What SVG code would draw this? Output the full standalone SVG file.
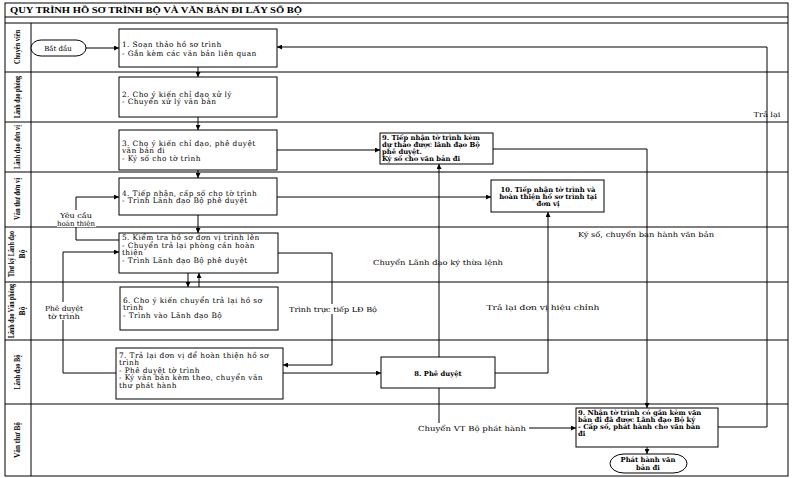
<svg xmlns="http://www.w3.org/2000/svg" width="793" height="478" viewBox="0 0 793 478">
<style>
.frame{fill:none;stroke:#000;stroke-width:1}
.box{fill:#fff;stroke:#000;stroke-width:1}
.ln{fill:none;stroke:#000;stroke-width:1}
.t{font-family:"DejaVu Serif","Liberation Serif",serif;font-size:7.4px;letter-spacing:0.4px;fill:#000}
.tb{font-family:"DejaVu Serif","Liberation Serif",serif;font-size:6.8px;font-weight:bold;fill:#000}
.lb{font-family:"DejaVu Serif","Liberation Serif",serif;font-size:7px;fill:#000}
.lane{font-family:"Liberation Serif","Times New Roman",serif;font-size:7.5px;font-weight:bold;fill:#000}
.title{font-family:"Liberation Serif","Times New Roman",serif;font-size:8.5px;font-weight:bold;fill:#000}
.c{text-anchor:middle}
.bg{fill:#fff;stroke:none}
</style>
<defs>
<marker id="ah" viewBox="0 0 10 10" refX="10" refY="5" markerWidth="5" markerHeight="5" markerUnits="userSpaceOnUse" orient="auto">
<path d="M0,0 L10,5 L0,10 z" fill="#000"/>
</marker>
</defs>
<rect width="793" height="478" fill="#fff"/>

<g id="frame">
<rect class="frame" x="5" y="3" width="783" height="473"/>
<line class="frame" x1="5" y1="17" x2="788" y2="17"/>
<line class="frame" x1="5" y1="23" x2="788" y2="23"/>
<line class="frame" x1="31" y1="23" x2="31" y2="476"/>
<line class="frame" x1="5" y1="72" x2="788" y2="72"/>
<line class="frame" x1="5" y1="122" x2="788" y2="122"/>
<line class="frame" x1="5" y1="172" x2="788" y2="172"/>
<line class="frame" x1="5" y1="227" x2="788" y2="227"/>
<line class="frame" x1="5" y1="282" x2="788" y2="282"/>
<line class="frame" x1="5" y1="340" x2="788" y2="340"/>
<line class="frame" x1="5" y1="404" x2="788" y2="404"/>
<text class="title" x="10" y="13" textLength="292" lengthAdjust="spacingAndGlyphs">QUY TRÌNH HỒ SƠ TRÌNH BỘ VÀ VĂN BẢN ĐI LẤY SỐ BỘ</text>
</g>

<g id="lanes">
<text class="lane c" transform="translate(20,47) rotate(-90)" textLength="34" lengthAdjust="spacingAndGlyphs">Chuyên viên</text>
<text class="lane c" transform="translate(20,97) rotate(-90)" textLength="42" lengthAdjust="spacingAndGlyphs">Lãnh đạo phòng</text>
<text class="lane c" transform="translate(20,147) rotate(-90)" textLength="44" lengthAdjust="spacingAndGlyphs">Lãnh đạo đơn vị</text>
<text class="lane c" transform="translate(20,199) rotate(-90)" textLength="42" lengthAdjust="spacingAndGlyphs">Văn thư đơn vị</text>
<text class="lane c" transform="translate(14,254) rotate(-90)" textLength="46" lengthAdjust="spacingAndGlyphs">Thư ký Lãnh đạo</text>
<text class="lane c" transform="translate(25,254) rotate(-90)">Bộ</text>
<text class="lane c" transform="translate(14,311) rotate(-90)" textLength="54" lengthAdjust="spacingAndGlyphs">Lãnh đạo Văn phòng</text>
<text class="lane c" transform="translate(25,311) rotate(-90)">Bộ</text>
<text class="lane c" transform="translate(20,372) rotate(-90)" textLength="35" lengthAdjust="spacingAndGlyphs">Lãnh đạo Bộ</text>
<text class="lane c" transform="translate(20,440) rotate(-90)" textLength="36" lengthAdjust="spacingAndGlyphs">Văn thư Bộ</text>
</g>

<g id="connectors">
<path class="ln" d="M86,48 H119" marker-end="url(#ah)"/>
<path class="ln" d="M198,67 V77" marker-end="url(#ah)"/>
<path class="ln" d="M198,117 V130" marker-end="url(#ah)"/>
<path class="ln" d="M198,170 V178" marker-end="url(#ah)"/>
<path class="ln" d="M198,215 V233" marker-end="url(#ah)"/>
<path class="ln" d="M188,273 V287" marker-end="url(#ah)"/>
<path class="ln" d="M199,287 V273" marker-end="url(#ah)"/>
<path class="ln" d="M277,150 H380" marker-end="url(#ah)"/>
<path class="ln" d="M277,197 H491" marker-end="url(#ah)"/>
<path class="ln" d="M119,240 H76 V197 H119" marker-end="url(#ah)"/>
<path class="ln" d="M116,373 H63 V252 H119" marker-end="url(#ah)"/>
<path class="ln" d="M278,253 H332 V365 H283" marker-end="url(#ah)"/>
<path class="ln" d="M283,373 H381" marker-end="url(#ah)"/>
<path class="ln" d="M439,357 V164" marker-end="url(#ah)"/>
<path class="ln" d="M495,373 H548 V212" marker-end="url(#ah)"/>
<path class="ln" d="M439,388 V428 H576" marker-end="url(#ah)"/>
<path class="ln" d="M493,149 H647 V408" marker-end="url(#ah)"/>
<path class="ln" d="M647,447 V454" marker-end="url(#ah)"/>
<path class="ln" d="M718,427 H767 V47 H277" marker-end="url(#ah)"/>

<rect class="bg" x="57" y="210" width="39" height="17"/>
<text class="lb c" x="76" y="218" textLength="32" lengthAdjust="spacingAndGlyphs">Yêu cầu</text>
<text class="lb c" x="76" y="225.5" textLength="38" lengthAdjust="spacingAndGlyphs">hoàn thiện</text>
<rect class="bg" x="44" y="302" width="40" height="18"/>
<text class="lb c" x="64" y="311" textLength="38" lengthAdjust="spacingAndGlyphs">Phê duyệt</text>
<text class="lb c" x="64" y="318.5" textLength="32" lengthAdjust="spacingAndGlyphs">tờ trình</text>
<rect class="bg" x="288" y="304" width="90" height="10"/>
<text class="lb c" x="333" y="312" textLength="88" lengthAdjust="spacingAndGlyphs">Trình trực tiếp LĐ Bộ</text>
<text class="lb c" x="438" y="265" textLength="130" lengthAdjust="spacingAndGlyphs">Chuyển Lãnh đạo ký thừa lệnh</text>
<text class="lb c" x="543" y="310" textLength="113" lengthAdjust="spacingAndGlyphs">Trả lại đơn vị hiệu chỉnh</text>
<text class="lb c" x="646" y="237" textLength="136" lengthAdjust="spacingAndGlyphs">Ký số, chuyển ban hành văn bản</text>
<rect class="bg" x="416" y="423" width="113" height="10"/>
<text class="lb c" x="472" y="431" textLength="108" lengthAdjust="spacingAndGlyphs">Chuyển VT Bộ phát hành</text>
<text class="lb c" x="767" y="117" textLength="27" lengthAdjust="spacingAndGlyphs">Trả lại</text>
</g>

<g id="start">
<rect class="box" x="31" y="40" width="55" height="16" rx="10" ry="8"/>
<text class="lb c" x="58" y="50.5">Bắt đầu</text>
</g>

<g id="n1">
<rect class="box" x="119" y="29" width="158" height="38"/>
<text class="t" x="122" y="46.5">1. Soạn thảo hồ sơ trình</text>
<text class="t" x="122" y="55.5">- Gắn kèm các văn bản liên quan</text>
</g>

<g id="n2">
<rect class="box" x="119" y="77" width="158" height="40"/>
<text class="t" x="122" y="96.5">2. Cho ý kiến chỉ đạo xử lý</text>
<text class="t" x="122" y="104">- Chuyển xử lý văn bản</text>
</g>

<g id="n3">
<rect class="box" x="119" y="130" width="158" height="40"/>
<text class="t" x="122" y="145.5">3. Cho ý kiến chỉ đạo, phê duyệt</text>
<text class="t" x="122" y="153">văn bản đi</text>
<text class="t" x="122" y="160.5">- Ký số cho tờ trình</text>
</g>

<g id="n4">
<rect class="box" x="119" y="178" width="158" height="37"/>
<text class="t" x="122" y="195.5">4. Tiếp nhận, cấp số cho tờ trình</text>
<text class="t" x="122" y="203">- Trình Lãnh đạo Bộ phê duyệt</text>
</g>

<g id="n5">
<rect class="box" x="119" y="233" width="159" height="40"/>
<text class="t" x="122" y="240">5. Kiểm tra hồ sơ đơn vị trình lên</text>
<text class="t" x="122" y="247.5">- Chuyển trả lại phòng cần hoàn</text>
<text class="t" x="122" y="255">thiện</text>
<text class="t" x="122" y="262.5">- Trình Lãnh đạo Bộ phê duyệt</text>
</g>

<g id="n6">
<rect class="box" x="120" y="287" width="158" height="43"/>
<text class="t" x="123" y="302.5">6. Cho ý kiến chuyển trả lại hồ sơ</text>
<text class="t" x="123" y="310">trình</text>
<text class="t" x="123" y="317.5">- Trình vào Lãnh đạo Bộ</text>
</g>

<g id="n7">
<rect class="box" x="116" y="348" width="167" height="51"/>
<text class="t" x="119" y="357.5">7. Trả lại đơn vị để hoàn thiện hồ sơ</text>
<text class="t" x="119" y="365">trình</text>
<text class="t" x="119" y="372.5">- Phê duyệt tờ trình</text>
<text class="t" x="119" y="380">- Ký văn bản kèm theo, chuyển văn</text>
<text class="t" x="119" y="387.5">thư phát hành</text>
</g>

<g id="n8">
<rect class="box" x="381" y="357" width="114" height="31"/>
<text class="tb c" x="438" y="376">8. Phê duyệt</text>
</g>

<g id="n9">
<rect class="box" x="380" y="133" width="113" height="31"/>
<text class="tb" x="382" y="140">9. Tiếp nhận tờ trình kèm</text>
<text class="tb" x="382" y="147">dự thảo được lãnh đạo Bộ</text>
<text class="tb" x="382" y="154">phê duyệt.</text>
<text class="tb" x="382" y="161">Ký số cho văn bản đi</text>
</g>

<g id="n10">
<rect class="box" x="491" y="180" width="113" height="32"/>
<text class="tb c" x="548" y="191.5">10. Tiếp nhận tờ trình và</text>
<text class="tb c" x="548" y="198.5">hoàn thiện hồ sơ trình tại</text>
<text class="tb c" x="548" y="205.5">đơn vị</text>
</g>

<g id="n9b">
<rect class="box" x="576" y="408" width="142" height="39"/>
<text class="tb" x="578" y="415">9. Nhận tờ trình có gắn kèm văn</text>
<text class="tb" x="578" y="422">bản đi đã được Lãnh đạo Bộ ký</text>
<text class="tb" x="578" y="429">- Cấp số, phát hành cho văn bản</text>
<text class="tb" x="578" y="436">đi</text>
</g>

<g id="end">
<rect class="box" x="610" y="454" width="77" height="19" rx="14" ry="9.5"/>
<text class="tb c" x="648" y="462">Phát hành văn</text>
<text class="tb c" x="648" y="470">bản đi</text>
</g>
</svg>
